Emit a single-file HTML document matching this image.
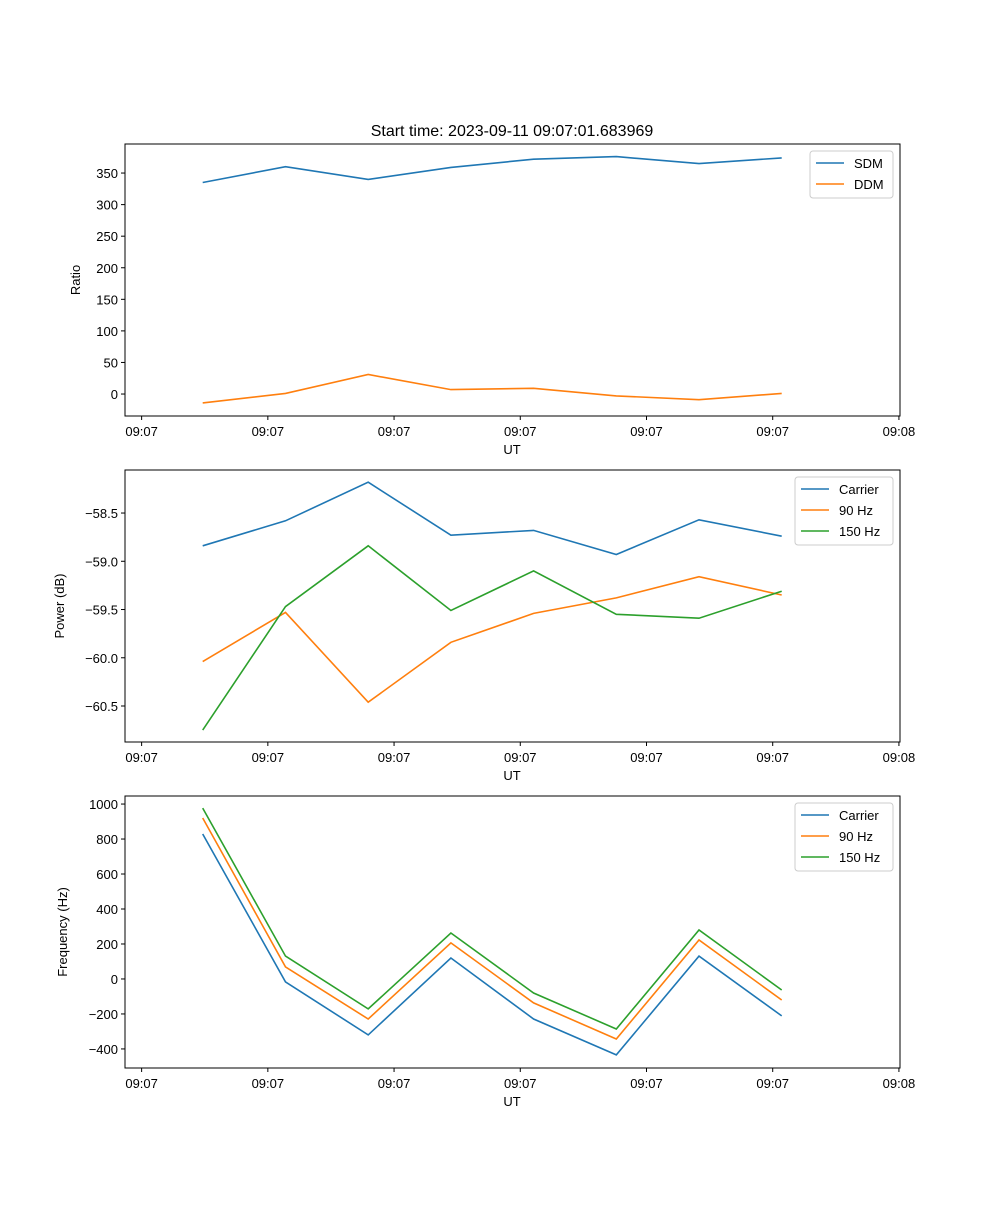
<!DOCTYPE html>
<html><head><meta charset="utf-8"><style>
body{margin:0;background:#fff;}
svg text{font-family:"Liberation Sans","DejaVu Sans",sans-serif;fill:#000;}
</style></head><body>
<svg id="fig" width="1000" height="1200" xmlns="http://www.w3.org/2000/svg">
<rect width="1000" height="1200" fill="#fff"/>
<text x="512" y="136" font-size="16" text-anchor="middle">Start time: 2023-09-11 09:07:01.683969</text>
</svg>
<script>
// x values: sample index
const sampleIdx = [0,1,2,3,4,5,6,7];
const xTickVals = [-0.739,0.787,2.313,3.839,5.365,6.891,8.417];
const xTickLabels = ["09:07","09:07","09:07","09:07","09:07","09:07","09:08"];
// panel 1
const sdm = [335,360,340,359,372,376,365,374];
const ddm = [-14,1,31,7,9,-3,-9,1];
const ratioTicks = [0,50,100,150,200,250,300,350];
// panel 2
const pCarrier = [-58.84,-58.58,-58.18,-58.73,-58.68,-58.93,-58.57,-58.74];
const p90 = [-60.04,-59.53,-60.46,-59.84,-59.54,-59.38,-59.16,-59.35];
const p150 = [-60.75,-59.47,-58.84,-59.51,-59.10,-59.55,-59.59,-59.31];
const powerTicks = [-60.5,-60.0,-59.5,-59.0,-58.5];
// panel 3
const fCarrier = [829,-17,-320,120,-229,-434,131,-211];
const f90 = [920,69,-229,206,-137,-343,223,-120];
const f150 = [977,131,-171,263,-80,-286,280,-63];
const freqTicks = [-400,-200,0,200,400,600,800,1000];

const NS="http://www.w3.org/2000/svg";
const svg=document.getElementById('fig');
const C=['#1f77b4','#ff7f0e','#2ca02c'];
function mk(t,a,p){const e=document.createElementNS(NS,t);for(const k in a)e.setAttribute(k,a[k]);(p||svg).appendChild(e);return e;}
const L=125,R=900;
const xmin=-0.94,xmax=8.43;
const xs=v=>L+(v-xmin)/(xmax-xmin)*(R-L);

function panel(name,top,bot,ymin,ymax,yticks,fmt,ylabel,series,names,legendW){
  const g=mk('g',{});
  
  
  const ys=v=>bot-(v-ymin)/(ymax-ymin)*(bot-top);
  series.forEach((s,i)=>{
    const pts=s.map((v,j)=>xs(sampleIdx[j]).toFixed(1)+','+ys(v).toFixed(1)).join(' ');
    const pl=mk('polyline',{points:pts,fill:'none',stroke:C[i],'stroke-width':1.6},g);
    
    
  });
  mk('rect',{x:L,y:top,width:R-L,height:bot-top,fill:'none',stroke:'#000','stroke-width':1},g);
  xTickVals.forEach((v,i)=>{
    const x=xs(v);
    mk('line',{x1:x,x2:x,y1:bot,y2:bot+4,stroke:'#000'},g);
    const t=mk('text',{x:x,y:bot+20,'font-size':13,'text-anchor':'middle'},g);t.textContent=xTickLabels[i];
    
    
  });
  const xl=mk('text',{x:512,y:bot+38,'font-size':13,'text-anchor':'middle'},g);xl.textContent='UT';
  
  
  yticks.forEach(v=>{
    const y=ys(v);
    mk('line',{x1:L-4,x2:L,y1:y,y2:y,stroke:'#000'},g);
    const t=mk('text',{x:L-7,y:y+5,'font-size':13,'text-anchor':'end'},g);t.textContent=fmt(v);
    
    
  });
  const cy=(top+bot)/2;
  const yl=mk('text',{x:0,y:0,'font-size':13,'text-anchor':'middle',transform:`translate(${ylabel[1]},${cy}) rotate(-90)`},g);yl.textContent=ylabel[0];
  
  
  const lx=R-7-legendW, ly=top+7, lh=names.length*21+5;
  const lg=mk('g',{},g);
  
  
  mk('rect',{x:lx,y:ly,width:legendW,height:lh,rx:3,fill:'#fff',stroke:'#ccc'},lg);
  names.forEach((n,i)=>{
    const y=ly+12+i*21;
    mk('line',{x1:lx+6,x2:lx+34,y1:y,y2:y,stroke:C[i],'stroke-width':1.6},lg);
    const t=mk('text',{x:lx+44,y:y+5,'font-size':13},lg);t.textContent=n;
    
    
  });
}
const mf=v=>(v<0?'\u2212':'')+Math.abs(v);
panel('ratio-panel',144,416,-34.8,396,ratioTicks,mf,['Ratio',80],[sdm,ddm],['SDM','DDM'],83);
panel('power-panel',470,742,-60.873,-58.054,powerTicks,v=>(v<0?'\u2212':'')+Math.abs(v).toFixed(1),['Power (dB)',64],[pCarrier,p90,p150],['Carrier','90 Hz','150 Hz'],98);
panel('frequency-panel',796,1068,-509,1046,freqTicks,mf,['Frequency (Hz)',67],[fCarrier,f90,f150],['Carrier','90 Hz','150 Hz'],98);
</script>
</body></html>
